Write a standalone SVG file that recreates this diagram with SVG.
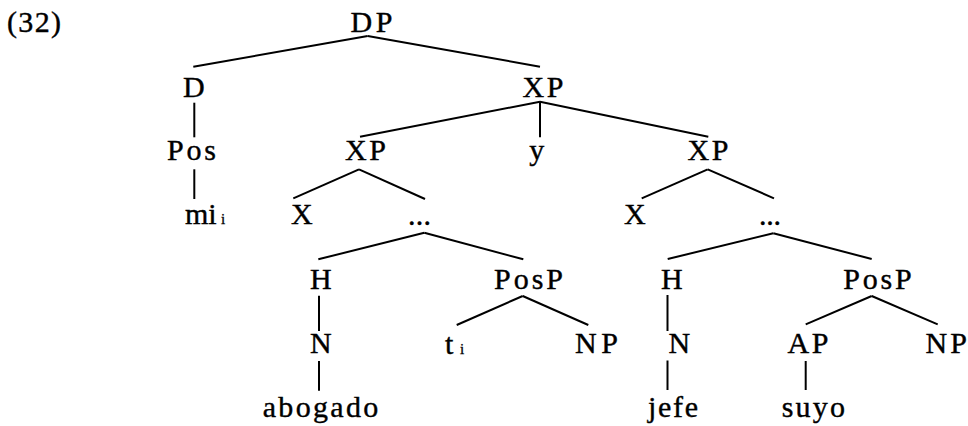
<svg xmlns="http://www.w3.org/2000/svg" width="968" height="426" viewBox="0 0 968 426">
<style>
text{font-family:"Liberation Serif","Times New Roman",serif;font-size:30px;fill:#000;stroke:#000;stroke-width:0.4}
.sub{font-size:15px;stroke-width:0.3}
#edges line{stroke:#000;stroke-width:2;stroke-linecap:butt}
</style>
<rect width="968" height="426" fill="#fff"/>
<text id="label" x="7" y="32.3" textLength="54" lengthAdjust="spacing">(32)</text>
<g id="edges">
<line x1="367.7" y1="36" x2="193.3" y2="66.7"/>
<line x1="367.7" y1="36" x2="540" y2="66.7"/>
<line x1="194.3" y1="102.7" x2="194.3" y2="137.3"/>
<line x1="194.3" y1="169.3" x2="194.3" y2="199"/>
<line x1="540" y1="101.7" x2="360" y2="136.7"/>
<line x1="540" y1="101.7" x2="540" y2="137.3"/>
<line x1="540" y1="101.7" x2="708.3" y2="136.7"/>
<line x1="359" y1="169.3" x2="293.3" y2="198.3"/>
<line x1="359" y1="169.3" x2="425" y2="199"/>
<line x1="707.7" y1="169.3" x2="641.7" y2="198.3"/>
<line x1="707.7" y1="169.3" x2="774" y2="198.3"/>
<line x1="424.3" y1="232.7" x2="318.3" y2="259.3"/>
<line x1="424.3" y1="232.7" x2="523.3" y2="259.3"/>
<line x1="773.3" y1="233.3" x2="667.7" y2="259"/>
<line x1="773.3" y1="233.3" x2="871.7" y2="259"/>
<line x1="319" y1="295.7" x2="319" y2="331"/>
<line x1="319" y1="361" x2="319" y2="390.7"/>
<line x1="522.7" y1="296" x2="456.7" y2="325"/>
<line x1="522.7" y1="296" x2="588.3" y2="325"/>
<line x1="667.5" y1="295" x2="667.5" y2="331"/>
<line x1="667.5" y1="360.5" x2="667.5" y2="390"/>
<line x1="871.7" y1="296" x2="805.7" y2="324.3"/>
<line x1="871.7" y1="296" x2="937.7" y2="324.3"/>
<line x1="805.7" y1="361" x2="805.7" y2="390"/>
</g>
<g id="n-DP"><text x="350.5" y="32.3" textLength="42" lengthAdjust="spacing">DP</text></g>
<g id="n-D"><text x="183" y="96.7">D</text></g>
<g id="n-XP1"><text x="522.5" y="96.7" textLength="41" lengthAdjust="spacing">XP</text></g>
<g id="n-Pos"><text x="167" y="160" textLength="49" lengthAdjust="spacing">Pos</text></g>
<g id="n-XP2"><text x="345" y="160" textLength="41" lengthAdjust="spacing">XP</text></g>
<g id="n-y"><text x="529.3" y="160">y</text></g>
<g id="n-XP3"><text x="687.5" y="160" textLength="41" lengthAdjust="spacing">XP</text></g>
<g id="n-mi"><text x="185" y="224">mi<tspan class="sub" x="221">i</tspan></text></g>
<g id="n-X1"><text x="291" y="224">X</text></g>
<g id="n-dots1"><text x="408" y="225" textLength="23" lengthAdjust="spacing">...</text></g>
<g id="n-X2"><text x="624" y="224">X</text></g>
<g id="n-dots2"><text x="759" y="225" textLength="22" lengthAdjust="spacing">...</text></g>
<g id="n-H1"><text x="310" y="289">H</text></g>
<g id="n-PosP1"><text x="494" y="289" textLength="69" lengthAdjust="spacing">PosP</text></g>
<g id="n-H2"><text x="661" y="289">H</text></g>
<g id="n-PosP2"><text x="843.3" y="289" textLength="68.5" lengthAdjust="spacing">PosP</text></g>
<g id="n-N1"><text x="310" y="353.3">N</text></g>
<g id="n-t"><text x="445" y="353.8">t<tspan class="sub" x="460">i</tspan></text></g>
<g id="n-NP1"><text x="575" y="353.3" textLength="43" lengthAdjust="spacing">NP</text></g>
<g id="n-N2"><text x="668.5" y="353.3">N</text></g>
<g id="n-AP"><text x="787.5" y="353.3" textLength="41" lengthAdjust="spacing">AP</text></g>
<g id="n-NP2"><text x="925.5" y="353.3" textLength="41.5" lengthAdjust="spacing">NP</text></g>
<g id="n-abogado"><text x="262.7" y="417" textLength="115.6" lengthAdjust="spacing">abogado</text></g>
<g id="n-jefe"><text x="648" y="416.5" textLength="50" lengthAdjust="spacing">jefe</text></g>
<g id="n-suyo"><text x="781.7" y="416.5" textLength="63.3" lengthAdjust="spacing">suyo</text></g>
</svg>
